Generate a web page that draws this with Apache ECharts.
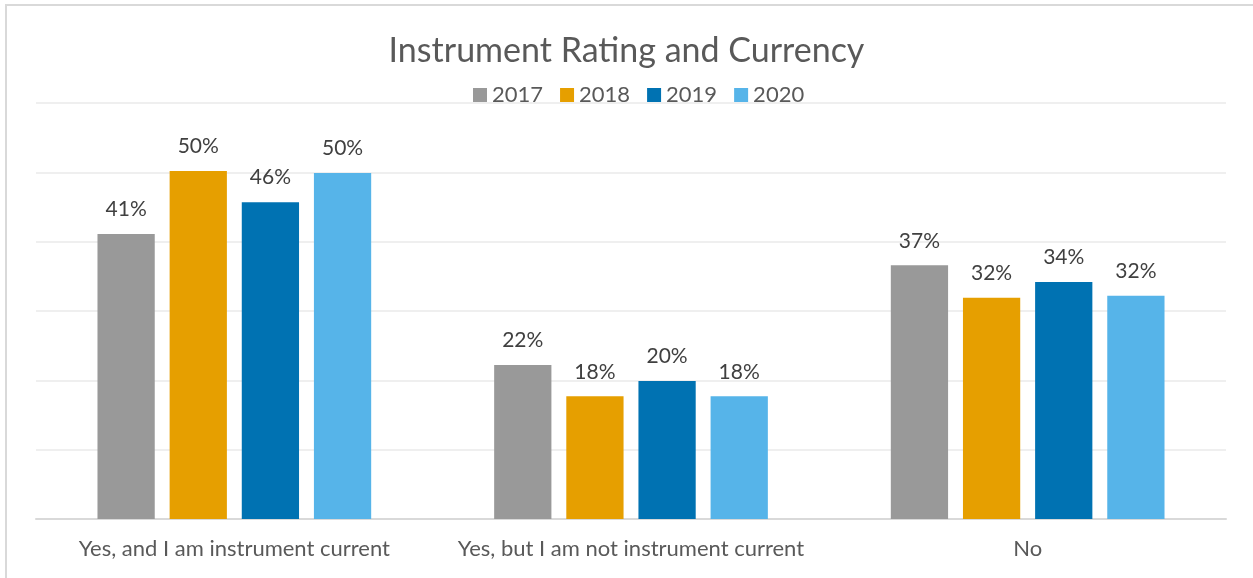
<!DOCTYPE html>
<html>
<head>
<meta charset="utf-8">
<script src="https://cdn.jsdelivr.net/npm/echarts@6/dist/echarts.min.js"></script>
<style>
  html, body { margin: 0; padding: 0; background: #fff; }
  #main { width: 1253px; height: 578px; }
</style>
</head>
<body>
<div id="main"></div>
<script>
// categories and yearly shares (percent)
const categories = ['Yes, and I am instrument current', 'Yes, but I am not instrument current', 'No'];
const years = ['2017', '2018', '2019', '2020'];
const v2017 = [41.1, 22.2, 36.6];
const v2018 = [50.2, 17.7, 31.9];
const v2019 = [45.7, 19.9, 34.2];
const v2020 = [49.9, 17.7, 32.2];
const colors = ['#999999', '#E69F00', '#0072B2', '#56B4E9'];

const font = 'Lato, "Open Sans", sans-serif';
let myChart = echarts.init(document.getElementById('main'));

let seriesData = [v2017, v2018, v2019, v2020];
let option = {
  animation: false,
  textStyle: { fontFamily: font },
  title: {
    text: 'Instrument Rating and Currency',
    left: 'center',
    top: 29,
    textStyle: { fontFamily: font, fontSize: 34, fontWeight: 'normal', color: '#595959' }
  },
  legend: {
    data: years,
    top: 79,
    left: 468,
    itemWidth: 14,
    itemHeight: 14,
    itemGap: 17,
    icon: 'rect',
    textStyle: { fontFamily: font, fontSize: 22, color: '#595959' }
  },
  grid: { left: 36, right: 27, top: 103, bottom: 59 },
  xAxis: {
    type: 'category',
    data: categories,
    axisTick: { show: false },
    axisLine: { lineStyle: { color: '#d9d9d9', width: 2 } },
    axisLabel: { interval: 0, fontFamily: font, fontSize: 22, color: '#595959', margin: 19 }
  },
  yAxis: {
    type: 'value',
    min: 0,
    max: 60,
    interval: 10,
    axisLabel: { show: false },
    axisLine: { show: false },
    axisTick: { show: false },
    splitLine: { lineStyle: { color: '#efefef', width: 2 } }
  },
  graphic: [{
    type: 'rect',
    shape: { x: 6, y: 5, width: 1400, height: 700 },
    style: { fill: 'none', stroke: '#d9d9d9', lineWidth: 2 },
    silent: true
  }],
  series: years.map((y, i) => ({
    name: y,
    type: 'bar',
    data: seriesData[i],
    barGap: '26%',
    barCategoryGap: '31%',
    itemStyle: { color: colors[i] },
    label: {
      show: true,
      position: 'top',
      distance: 14,
      fontFamily: font,
      fontSize: 21,
      color: '#404040',
      formatter: p => Math.round(p.value) + '%'
    }
  }))
};
myChart.setOption(option);
</script>
</body>
</html>
